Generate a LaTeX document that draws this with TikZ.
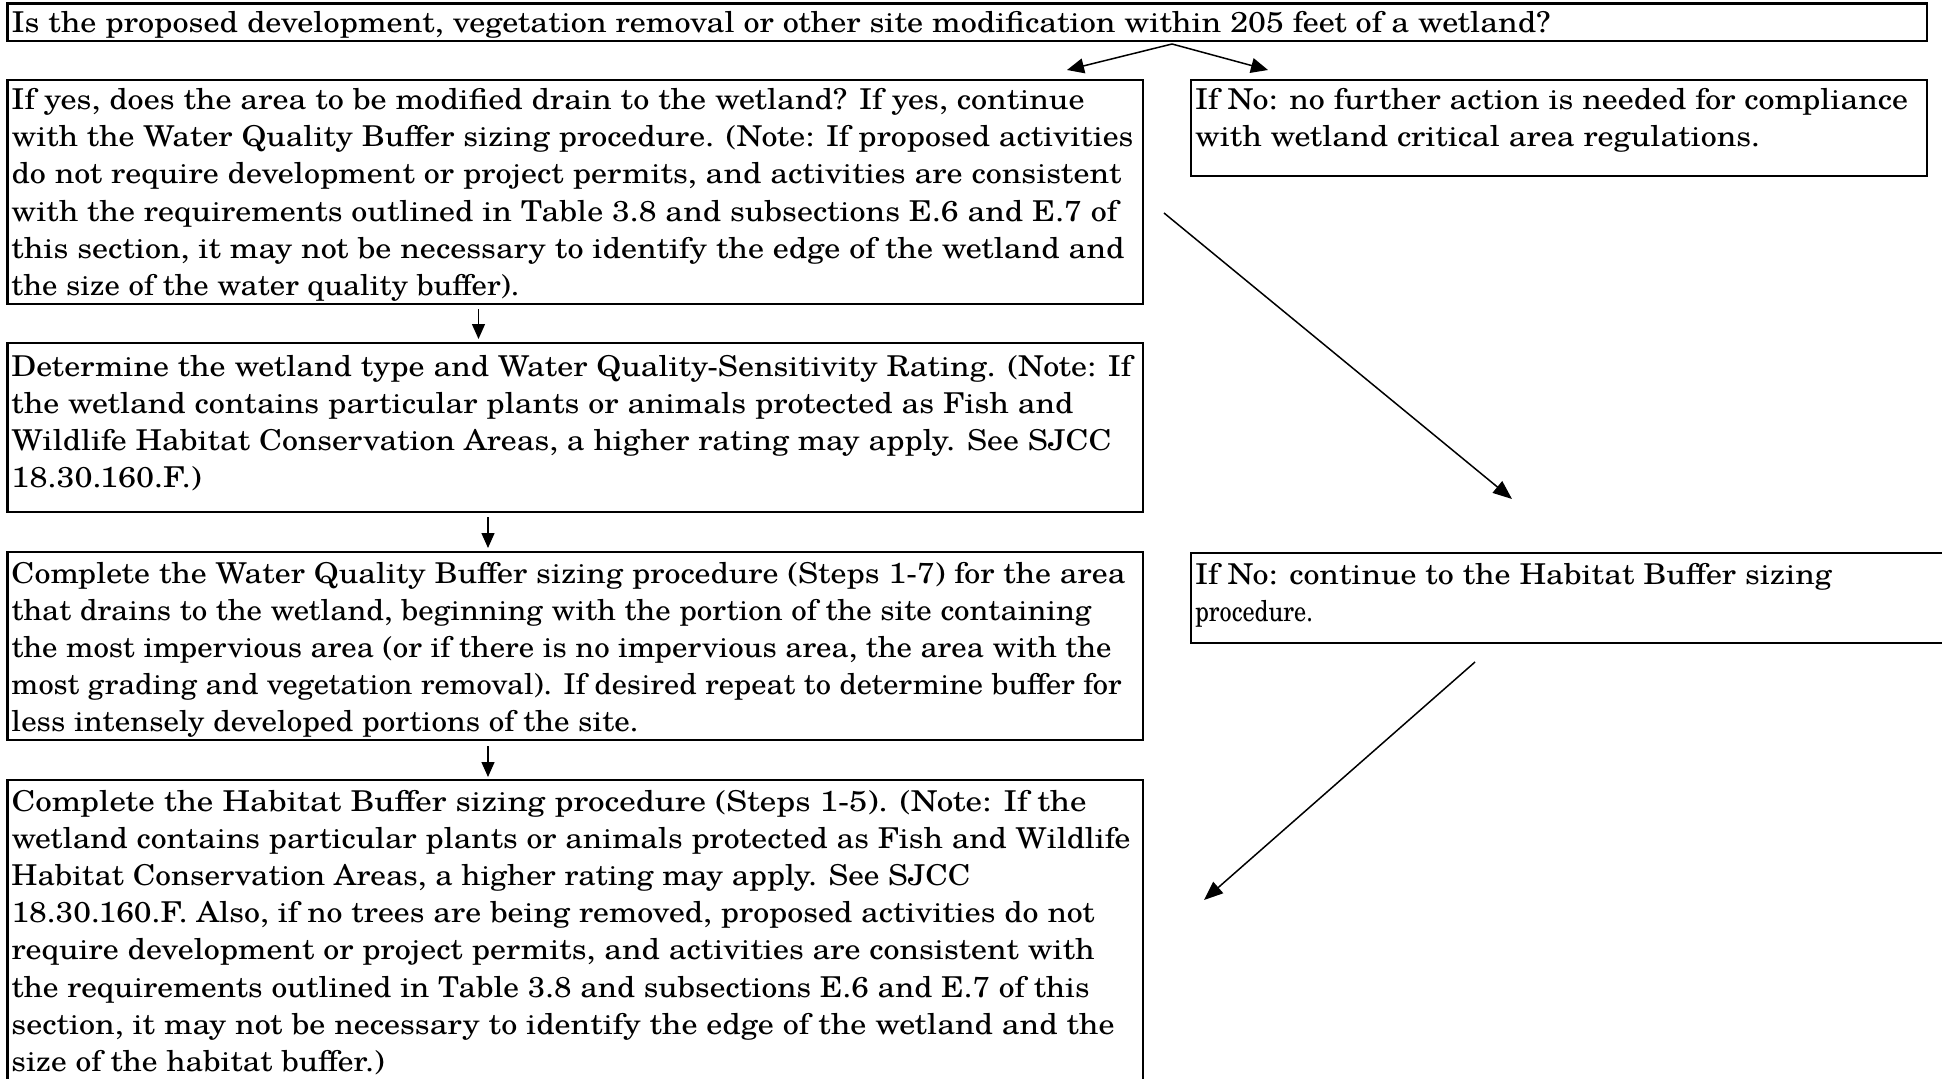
\documentclass[tikz,border=0pt]{standalone}
\usepackage{fontspec}
\setmainfont{TeX Gyre Schola}
\usepackage{graphicx}
\usetikzlibrary{arrows.meta,calc}
\newcommand\fl[2]{\resizebox{#1pt}{\height}{#2}}
\begin{document}
\begin{tikzpicture}[x=1pt,y=-1pt,
  boxsty/.style={draw, line width=2.3pt, anchor=north west, inner sep=0pt, outer sep=0pt},
  txt/.style={anchor=north west, inner sep=0pt, outer sep=0pt, align=left, font=\fontsize{28.7}{37.2}\selectfont},
  bigarr/.style={-{Triangle[length=19pt,width=15pt]}, line width=1.5pt},
  toparr/.style={-{Triangle[length=17pt,width=15pt]}, line width=1.5pt},
  smallarr/.style={-{Triangle[length=15pt,width=13pt]}, line width=1.4pt}]
\useasboundingbox (0,0) rectangle (1942,1078);
\clip (0,0) rectangle (1942,1078);
\fill[white] (0,0) rectangle (1942,1078);
% boxes
\node[boxsty, minimum width=1919.5pt, minimum height=37.5pt] (T) at (7.5,3.5) {};
\node[boxsty, minimum width=1135.5pt, minimum height=224pt] (A) at (7.5,80) {};
\node[boxsty, minimum width=736pt, minimum height=96pt] (B) at (1191,80) {};
\node[boxsty, minimum width=1135.5pt, minimum height=169pt] (C) at (7.5,343) {};
\node[boxsty, minimum width=1135.5pt, minimum height=188pt] (D) at (7.5,552) {};
\node[boxsty, minimum width=800pt, minimum height=90pt] (E) at (1191,553) {};
\node[boxsty, minimum width=1135.5pt, minimum height=340pt] (F) at (7.5,780) {};
% texts
\node[txt] (Tt) at ($(T.north west)+(4,2.5)$) {\strut\fl{1539}{Is the proposed development, vegetation removal or other site modification within 205 feet of a wetland?}};
\node[txt] (At) at ($(A.north west)+(4,3.5)$) {\strut\fl{1073}{If yes, does the area to be modified drain to the wetland? If yes, continue}\\
\fl{1122}{with the Water Quality Buffer sizing procedure. (Note: If proposed activities}\\
\fl{1110}{do not require development or project permits, and activities are consistent}\\
\fl{1106}{with the requirements outlined in Table 3.8 and subsections E.6 and E.7 of}\\
\fl{1113}{this section, it may not be necessary to identify the edge of the wetland and}\\
\fl{508}{the size of the water quality buffer).}};
\node[txt] (Bt) at ($(B.north west)+(4,3.5)$) {\strut\fl{713}{If No: no further action is needed for compliance}\\
\fl{565}{with wetland critical area regulations.}};
\node[txt] (Ct) at ($(C.north west)+(4,7)$) {\strut\fl{1120}{Determine the wetland type and Water Quality-Sensitivity Rating. (Note: If}\\
\fl{1062}{the wetland contains particular plants or animals protected as Fish and}\\
\fl{1100}{Wildlife Habitat Conservation Areas, a higher rating may apply. See SJCC}\\
\fl{190}{18.30.160.F.)}};
\node[txt] (Dt) at ($(D.north west)+(4,5)$) {\strut\fl{1114}{Complete the Water Quality Buffer sizing procedure (Steps 1-7) for the area}\\
\fl{1080}{that drains to the wetland, beginning with the portion of the site containing}\\
\fl{1100}{the most impervious area (or if there is no impervious area, the area with the}\\
\fl{1110}{most grading and vegetation removal). If desired repeat to determine buffer for}\\
\fl{627}{less intensely developed portions of the site.}};
\node[txt] (Et) at ($(E.north west)+(4,5)$) {\strut\fl{637}{If No: continue to the Habitat Buffer sizing}\\
\fl{118}{procedure.}};
\node[txt] (Ft) at ($(F.north west)+(4,5)$) {\strut\fl{1075}{Complete the Habitat Buffer sizing procedure (Steps 1-5). (Note: If the}\\
\fl{1119}{wetland contains particular plants or animals protected as Fish and Wildlife}\\
\fl{959}{Habitat Conservation Areas, a higher rating may apply. See SJCC}\\
\fl{1083}{18.30.160.F. Also, if no trees are being removed, proposed activities do not}\\
\fl{1083}{require development or project permits, and activities are consistent with}\\
\fl{1078}{the requirements outlined in Table 3.8 and subsections E.6 and E.7 of this}\\
\fl{1103}{section, it may not be necessary to identify the edge of the wetland and the}\\
\fl{373}{size of the habitat buffer.)}};
% connector end points
\coordinate (ap) at ($(T.south west)+(1164.5,3)$);
\coordinate (tl) at (1067,70);
\coordinate (tr) at (1268,70);
\coordinate (d1s) at (1164,213);
\coordinate (d1e) at (1512,499);
\coordinate (d2s) at (1475,662);
\coordinate (d2e) at (1204,900);
% connectors
\draw[toparr] (ap) -- (tl);
\draw[toparr] (ap) -- (tr);
\draw[bigarr] (d1s) -- (d1e);
\draw[bigarr] (d2s) -- (d2e);
\draw[smallarr] ($(A.south west)+(471,5)$) -- ($(C.north west)+(471,-4)$);
\draw[smallarr] ($(C.south west)+(480.5,5)$) -- ($(D.north west)+(480.5,-4)$);
\draw[smallarr] ($(D.south west)+(480.5,6)$) -- ($(F.north west)+(480.5,-3)$);
\end{tikzpicture}
\end{document}
